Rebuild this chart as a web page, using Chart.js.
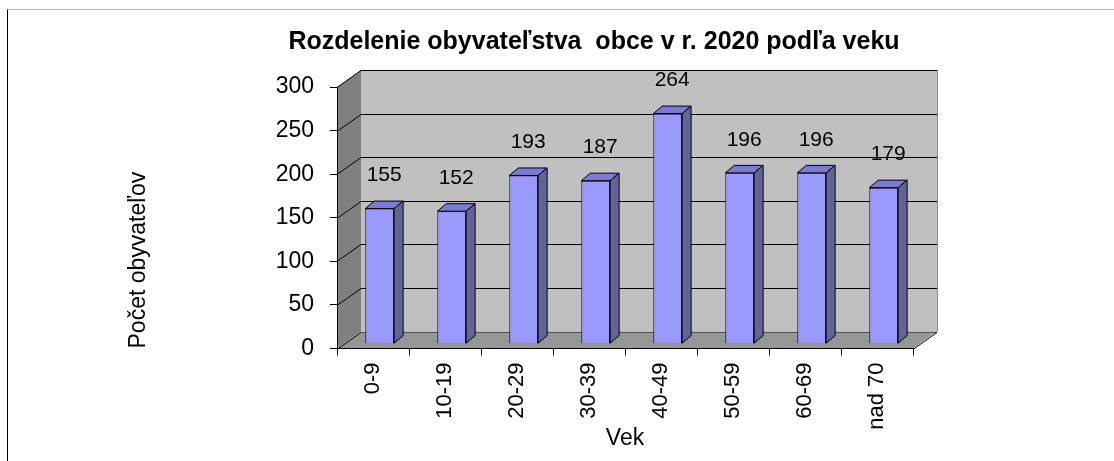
<!DOCTYPE html>
<html>
<head>
<meta charset="utf-8">
<script src="https://cdn.jsdelivr.net/npm/chart.js@4/dist/chart.umd.min.js"></script>
<style>
  html, body { margin: 0; padding: 0; background: #fff; }
  #wrap { position: relative; width: 1114px; height: 461px; overflow: hidden; }
  #frame { position: absolute; left: 7px; top: 9px; right: -5px; bottom: -5px;
           border-top: 1px solid #b4b4b4; border-left: 1px solid #000; }
  canvas { position: absolute; left: 0; top: 0; }
</style>
</head>
<body>
<div id="wrap">
  <div id="frame"></div>
  <canvas id="c" width="1114" height="461"></canvas>
</div>
<script>
// ---- data ----
const categories = ['0-9', '10-19', '20-29', '30-39', '40-49', '50-59', '60-69', 'nad 70'];
const population = [155, 152, 193, 187, 264, 196, 196, 179];
const yTicks = [0, 50, 100, 150, 200, 250, 300];
const chartTitle = 'Rozdelenie obyvateľstva  obce v r. 2020 podľa veku';
const xTitle = 'Vek';
const yTitle = 'Počet obyvateľov';

// ---- 3D look parameters ----
const WALL_DX = 24, WALL_DY = -17;     // depth of the back wall
const BAR_OX = 6.7, BAR_OY = -4.8;      // bar front face offset into the depth
const BAR_DX = 9, BAR_DY = -7.5;        // bar depth
const FONT = '"Liberation Sans", Arial, sans-serif';

const threeD = {
  id: 'threeD',
  beforeDraw(chart) {
    const {ctx, chartArea: a, scales: {y}} = chart;
    ctx.save();
    // back wall
    ctx.fillStyle = '#c0c0c0';
    ctx.fillRect(a.left + WALL_DX, a.top + WALL_DY, a.right - a.left, a.bottom - a.top);
    // left wall
    ctx.fillStyle = '#808080';
    ctx.beginPath();
    ctx.moveTo(a.left, a.top);
    ctx.lineTo(a.left + WALL_DX, a.top + WALL_DY);
    ctx.lineTo(a.left + WALL_DX, a.bottom + WALL_DY);
    ctx.lineTo(a.left, a.bottom);
    ctx.closePath();
    ctx.fill();
    // floor
    ctx.fillStyle = '#969696';
    ctx.beginPath();
    ctx.moveTo(a.left, a.bottom);
    ctx.lineTo(a.left + WALL_DX, a.bottom + WALL_DY);
    ctx.lineTo(a.right + WALL_DX, a.bottom + WALL_DY);
    ctx.lineTo(a.right, a.bottom);
    ctx.closePath();
    ctx.fill();
    // wall outline
    ctx.strokeStyle = '#8a8a8a';
    ctx.lineWidth = 1;
    ctx.beginPath();
    ctx.moveTo(a.right + WALL_DX + 0.5, a.top + WALL_DY);
    ctx.lineTo(a.right + WALL_DX + 0.5, a.bottom + WALL_DY);
    ctx.stroke();
    // gridlines on back wall + left wall
    ctx.strokeStyle = '#000';
    yTicks.forEach(v => {
      const py = Math.round(y.getPixelForValue(v)) + 0.5;
      ctx.beginPath();
      ctx.moveTo(a.left, py);
      ctx.lineTo(a.left + WALL_DX, py + WALL_DY);
      if (v !== 0) ctx.lineTo(a.right + WALL_DX, py + WALL_DY);
      ctx.stroke();
    });
    ctx.strokeStyle = '#555';
    const by = Math.round(y.getPixelForValue(0)) + 0.5;
    ctx.beginPath();
    ctx.moveTo(a.left + WALL_DX, by + WALL_DY);
    ctx.lineTo(a.right + WALL_DX, by + WALL_DY);
    ctx.stroke();
    ctx.strokeStyle = '#000';
    ctx.beginPath();
    ctx.moveTo(a.right, by);
    ctx.lineTo(a.right + WALL_DX, by + WALL_DY);
    ctx.stroke();
    ctx.restore();
  },
  beforeDatasetsDraw(chart) {
    chart.ctx.save();
    chart.ctx.translate(BAR_OX, BAR_OY);
  },
  afterDatasetsDraw(chart) {
    const ctx = chart.ctx;
    ctx.restore();
    const meta = chart.getDatasetMeta(0);
    ctx.save();
    ctx.lineWidth = 1;
    ctx.strokeStyle = '#000';
    meta.data.forEach((bar, i) => {
      const p = bar.getProps(['x', 'y', 'base', 'width'], true);
      const x1 = p.x - p.width / 2 + BAR_OX, x2 = p.x + p.width / 2 + BAR_OX;
      const top = p.y + BAR_OY, bot = p.base + BAR_OY;
      // top face
      ctx.fillStyle = '#7b7bd3';
      ctx.beginPath();
      ctx.moveTo(x1, top);
      ctx.lineTo(x1 + BAR_DX, top + BAR_DY);
      ctx.lineTo(x2 + BAR_DX, top + BAR_DY);
      ctx.lineTo(x2, top);
      ctx.closePath();
      ctx.fill(); ctx.stroke();
      // side face
      ctx.fillStyle = '#636399';
      ctx.beginPath();
      ctx.moveTo(x2, top);
      ctx.lineTo(x2 + BAR_DX, top + BAR_DY);
      ctx.lineTo(x2 + BAR_DX, bot + BAR_DY);
      ctx.lineTo(x2, bot);
      ctx.closePath();
      ctx.fill(); ctx.stroke();
      // value label
      ctx.fillStyle = '#000';
      ctx.font = '21px ' + FONT;
      ctx.textAlign = 'center';
      ctx.textBaseline = 'middle';
      ctx.fillText(String(population[i]), p.x + BAR_OX + BAR_DX / 2, top - 33);
    });
    ctx.restore();
  }
};

new Chart(document.getElementById('c'), {
  type: 'bar',
  data: {
    labels: categories,
    datasets: [{
      data: population,
      backgroundColor: '#9999ff',
      borderColor: '#000',
      borderWidth: 1,
      categoryPercentage: 1,
      barPercentage: 0.4,
      clip: false
    }]
  },
  options: {
    responsive: false,
    animation: false,
    devicePixelRatio: 1,
    layout: { padding: { left: 74, right: 0, top: 0, bottom: 0 } },
    plugins: {
      legend: { display: false },
      tooltip: { enabled: false },
      title: {
        display: true,
        text: chartTitle,
        color: '#000',
        font: { family: FONT, size: 25, weight: 'bold' },
        padding: { top: 27, bottom: 30 }
      }
    },
    scales: {
      x: {
        afterFit(scale) { scale.height = 112.5; },
        grid: { offset: true, drawOnChartArea: false, drawTicks: true, tickLength: 7, color: '#000' },
        border: { display: true, color: '#000' },
        ticks: {
          autoSkip: false, minRotation: 90, maxRotation: 90, padding: 7,
          color: '#000', font: { family: FONT, size: 22 }
        },
        title: {
          display: true, text: xTitle, color: '#000',
          font: { family: FONT, size: 23 }, padding: { top: 0, bottom: 9 }
        }
      },
      y: {
        min: 0, max: 300,
        afterFit(scale) { scale.width = 263; },
        afterBuildTicks(scale) { scale.ticks = yTicks.map(v => ({ value: v })); },
        grid: { drawOnChartArea: false, drawTicks: true, tickLength: 7, color: '#000' },
        border: { display: true, color: '#000' },
        ticks: { padding: 16, color: '#000', font: { family: FONT, size: 23 } },
        title: {
          display: true, text: yTitle, color: '#000', align: 'start',
          font: { family: FONT, size: 23 }, padding: { top: 51, bottom: 0 }
        }
      },
      yRight: {
        position: 'right',
        afterFit(scale) { scale.width = 201; },
        grid: { display: false },
        border: { display: false },
        ticks: { display: false },
        title: { display: false }
      }
    }
  },
  plugins: [threeD]
});
</script>
</body>
</html>
